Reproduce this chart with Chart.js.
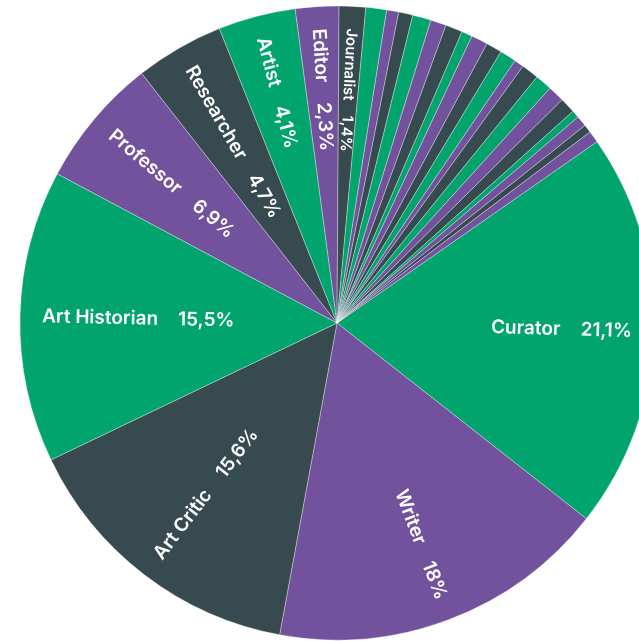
<!DOCTYPE html>
<html>
<head>
<meta charset="utf-8">
<script src="https://cdn.jsdelivr.net/npm/chart.js@4"></script>
<style>
  body { margin: 0; background: #fff; }
</style>
</head>
<body>
<canvas id="pieChart" width="639" height="641"></canvas>
<script>
// professions with their share in percent
const categories = ['Curator', 'Writer', 'Art Critic', 'Art Historian', 'Professor',
    'Researcher', 'Artist', 'Editor', 'Journalist'];
const shares = [21.1, 18, 15.6, 15.5, 6.9, 4.7, 4.1, 2.3, 1.4];

// the many small unlabelled answers after Journalist
const otherShares = [1.10, 0.64, 0.75, 0.98, 0.83, 0.90, 0.57, 0.88, 0.84, 0.87,
    0.51, 0.92, 0.90, 0.87, 0.83, 0.40, 0.57, 0.43, 0.62];

const green = '#00a46c';
const purple = '#72529d';
const dark = '#364a4f';
const palette = [green, purple, dark];

const allLabels = categories.concat(otherShares.map(() => ''));
const allValues = shares.concat(otherShares);
const colors = allValues.map((v, i) => palette[i % 3]);
colors[colors.length - 1] = purple; // last sliver is purple, not green

// writes "name   value" along each slice, pushed out to the rim
const sliceLabels = {
    id: 'sliceLabels',
    afterDatasetsDraw(chart) {
        const ctx = chart.ctx;
        const meta = chart.getDatasetMeta(0);
        meta.data.forEach((arc, i) => {
            const name = allLabels[i];
            if (!name) return;
            const p = arc.getProps(['x', 'y', 'startAngle', 'endAngle', 'outerRadius'], true);
            const span = p.endAngle - p.startAngle;
            let a = (p.startAngle + p.endAngle) / 2;
            a = Math.atan2(Math.sin(a), Math.cos(a));
            const flip = a > Math.PI / 2 || a < -Math.PI / 2 + 0.2;
            const size = span < 0.1 ? 15 : 19;
            const value = String(allValues[i]).replace('.', ',') + '%';
            const edge = p.outerRadius - 22;
            const gap = span < 0.1 ? 15 : 20;

            ctx.save();
            ctx.translate(p.x, p.y);
            ctx.rotate(flip ? a + Math.PI : a);
            ctx.fillStyle = '#fff';
            ctx.font = '600 ' + size + 'px Inter';
            ctx.textBaseline = 'middle';
            const vw = ctx.measureText(value).width;
            const nw = ctx.measureText(name).width;
            if (flip) {
                ctx.textAlign = 'left';
                ctx.fillText(name, -edge, 0);
                ctx.fillText(value, -edge + nw + gap, 0);
            } else {
                ctx.textAlign = 'right';
                ctx.fillText(value, edge, 0);
                ctx.fillText(name, edge - vw - gap, 0);
            }
            ctx.restore();
        });
    }
};

const ctx1 = document.getElementById('pieChart');

new Chart(ctx1, {
    type: 'pie',
    data: {
        labels: allLabels,
        datasets: [{
            data: allValues,
            backgroundColor: colors,
            borderColor: 'rgba(255,255,255,0.55)',
            borderWidth: 0.6
        }]
    },
    options: {
        responsive: false,
        animation: false,
        rotation: 55.1,
        radius: 317,
        layout: {
            padding: { left: 35, right: 0, top: 5, bottom: 0 }
        },
        plugins: {
            legend: { display: false },
            tooltip: { enabled: false }
        }
    },
    plugins: [sliceLabels]
});
</script>
</body>
</html>
